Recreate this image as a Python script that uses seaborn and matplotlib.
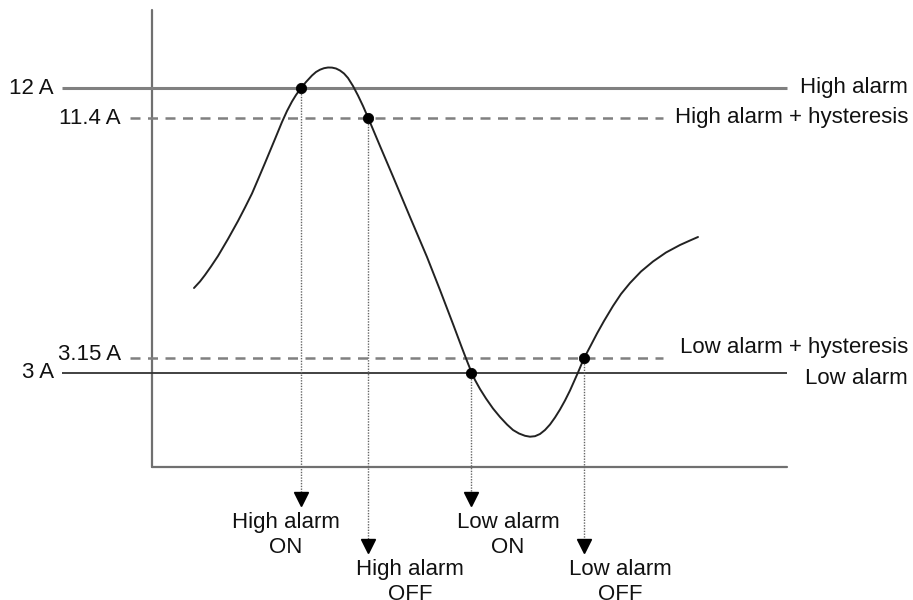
import matplotlib
matplotlib.use("Agg")
import matplotlib.pyplot as plt
import seaborn as sns

# current curve (time, level) in drawing units
curve_t = [194, 200, 205, 211, 218, 223, 228, 233, 238, 245, 252, 258, 265, 270, 275,
           282, 287, 292, 296, 301, 306, 312, 316, 320, 324, 328, 332, 336, 340, 344,
           348, 353, 358, 363, 368, 380, 393, 410, 427, 440, 453, 462, 467, 471, 475,
           480, 486, 493, 500, 507, 513, 519, 525, 530, 535, 540, 545, 550, 555, 560,
           565, 570, 574, 578, 582, 586, 591, 597, 604, 613, 621, 630, 641, 653, 666,
           680, 690, 698]
curve_y = [288, 281.5, 275, 266.5, 256, 247.5, 239, 230, 221, 207.5, 193.5, 179.5, 163, 151, 139,
           122, 111, 101.5, 95, 88, 82, 75.5, 72, 69.7, 68.2, 67.5, 67.6, 68.5, 70.5, 73.5,
           78, 86, 95.5, 106, 117.5, 146, 176.5, 217, 257, 290, 324, 348, 361, 371, 380,
           389, 398.5, 408.5, 417, 424.5, 430, 433.5, 435.8, 436.7, 436.2, 434, 430, 424.5, 417.5, 409.5,
           400.5, 390.5, 381.5, 372.5, 363, 354.5, 345, 333.5, 321, 306, 294, 283, 271.5, 261.5, 252.5,
           245, 240.5, 237]

# threshold levels
level_y = [88, 118, 358, 373]
level_value = ["12 A", "11.4 A", "3.15 A", "3 A"]
level_name = ["High alarm", "High alarm + hysteresis", "Low alarm + hysteresis", "Low alarm"]
level_dashed = [False, True, True, False]

# crossing points and events
event_t = [301, 368, 471, 584]
event_y = [88, 118, 373, 358]
event_tip = [505, 552, 505, 552]
event_label = ["High alarm\nON", "High alarm\nOFF", "Low alarm\nON", "Low alarm\nOFF"]
event_label_x = [286, 410, 508, 620]

sns.set_style("white")
plt.rcParams["font.family"] = ["Liberation Sans", "DejaVu Sans"]

fig = plt.figure(figsize=(9.13, 6), dpi=100)
ax = fig.add_axes([0, 0, 1, 1])
ax.set_xlim(0, 913)
ax.set_ylim(600, 0)
ax.axis("off")

# axes of the diagram
ax.plot([152, 152], [10, 467], color="#707070", lw=1.6)
ax.plot([152, 787], [467, 467], color="#707070", lw=1.6)

# threshold lines and labels
for y, val, name, dashed in zip(level_y, level_value, level_name, level_dashed):
    if dashed:
        ax.hlines(y, 130, 663, colors="#808080", lw=1.8, linestyles=(0, (4, 3)))
        ax.text(121, y - 3 if "3.15" in val else y, val, ha="right", va="center",
                fontsize=16, color="#111111")
        ax.text(908, y - 10 if "Low" in name else y, name, ha="right", va="center",
                fontsize=16, color="#111111")
    else:
        is_high = "High" in name
        ax.hlines(y, 62, 787, colors="#808080" if is_high else "#333333",
                  lw=2.2 if is_high else 1.3)
        ax.text(54, y, val, ha="right", va="center", fontsize=16, color="#111111")
        ax.text(908, y + 5 if not is_high else y, name, ha="right", va="center",
                fontsize=16, color="#111111")

# the current curve
sns.lineplot(x=curve_t, y=curve_y, sort=False, ax=ax, color="#222222", lw=1.4)

# dotted drop lines with arrow heads
for t, y, tip, lab, lx in zip(event_t, event_y, event_tip, event_label, event_label_x):
    ax.plot([t, t], [y, tip - 12], color="#666666", lw=1.0, ls=(0, (1, 1)))
    ax.plot(t, tip - 6, marker="v", markersize=10, color="black", mec="black")
    ax.text(lx, tip + 30, lab, ha="center", va="center", fontsize=16,
            color="#111111", linespacing=1.2)

sns.scatterplot(x=event_t, y=event_y, ax=ax, color="black", s=55, zorder=5,
                edgecolor="black")

fig.savefig("out.png", dpi=100)
plt.close(fig)
